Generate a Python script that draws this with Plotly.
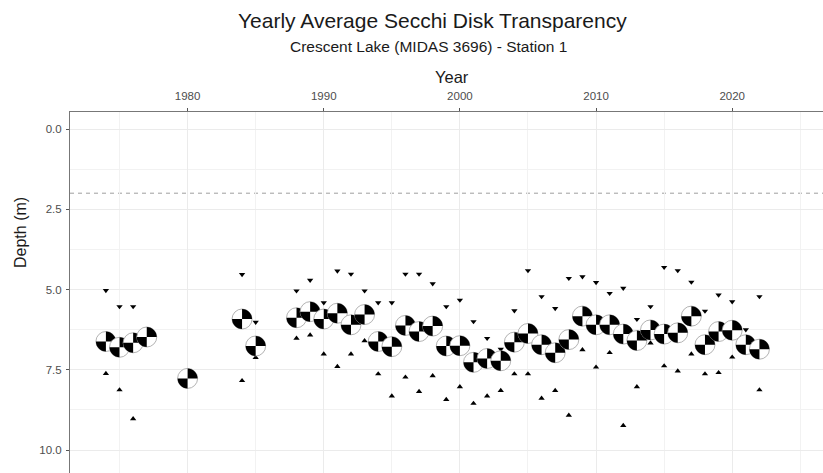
import plotly.graph_objects as go

# Yearly Secchi disk transparency summary (depth in metres)
years = [1974, 1975, 1976, 1977, 1980, 1984, 1985,
         1988, 1989, 1990, 1991, 1992, 1993, 1994, 1995, 1996, 1997, 1998, 1999,
         2000, 2001, 2002, 2003, 2004, 2005, 2006, 2007, 2008, 2009,
         2010, 2011, 2012, 2013, 2014, 2015, 2016, 2017, 2018, 2019,
         2020, 2021, 2022]

mean_depth = [6.62, 6.80, 6.66, 6.48, 7.77, 5.92, 6.76,
              5.88, 5.69, 5.92, 5.74, 6.10, 5.78, 6.62, 6.78, 6.12, 6.31, 6.14, 6.76,
              6.75, 7.27, 7.15, 7.22, 6.64, 6.37, 6.72, 6.97, 6.56, 5.83,
              6.10, 6.10, 6.39, 6.59, 6.26, 6.39, 6.35, 5.83, 6.72, 6.31,
              6.27, 6.72, 6.86]

min_depth = [5.03, 5.53, 5.53, None, None, 4.53, 6.02,
             5.04, 4.71, 5.41, 4.42, 4.52, 5.04, 5.41, 5.41, 4.52, 4.52, 4.82, 5.53,
             5.33, 6.00, 6.52, 6.86, 5.66, 4.41, 5.22, 5.59, 4.65, 4.60,
             4.78, 5.12, 4.96, 5.93, 5.53, 4.31, 4.41, 4.77, 5.67, 5.17,
             5.38, 6.25, 5.22]

max_depth = [7.62, 8.13, 9.03, None, None, 7.84, 7.12,
             6.52, 6.42, 7.01, 7.40, 7.01, 6.60, 7.63, 8.32, 7.73, 8.18, 7.69, 8.43,
             8.03, 8.55, 8.32, 8.15, 7.63, 7.63, 8.39, 8.15, 8.92, 6.88,
             7.42, 6.97, 9.24, 8.03, 6.67, 7.38, 7.54, 7.01, 7.63, 7.59,
             7.11, None, 8.13]

reference_depth = 2.0
x_ticks = [1980, 1990, 2000, 2010, 2020]
y_ticks = [0.0, 2.5, 5.0, 7.5, 10.0]

FONT = "Liberation Sans, Arial, sans-serif"
W, H = 823, 473
ML, MT = 70, 112

fig = go.Figure()

# minimum / maximum readings per year
fig.add_trace(go.Scatter(
    x=years, y=min_depth, mode="markers",
    marker=dict(symbol="triangle-down", size=5.5, color="black"),
    hoverinfo="skip", showlegend=False))
fig.add_trace(go.Scatter(
    x=years, y=max_depth, mode="markers",
    marker=dict(symbol="triangle-up", size=5.5, color="black"),
    hoverinfo="skip", showlegend=False))

# Secchi disk icon for each yearly mean: white disc, black upper-right and lower-left quadrants
R = 10.0
k = 0.5523 * R
quadrants = (
    f"M0,0 L{R},0 C{R},{k} {k},{R} 0,{R} Z "
    f"M0,0 L{-R},0 C{-R},{-k} {-k},{-R} 0,{-R} Z"
)
shapes = []
for yr, d in zip(years, mean_depth):
    shapes.append(dict(
        type="circle", xref="x", yref="y", xsizemode="pixel", ysizemode="pixel",
        xanchor=yr, yanchor=d, x0=-R, x1=R, y0=-R, y1=R,
        fillcolor="white", line=dict(color="#a0a0a0", width=0.8), layer="above"))
    shapes.append(dict(
        type="path", xref="x", yref="y", xsizemode="pixel", ysizemode="pixel",
        xanchor=yr, yanchor=d, path=quadrants,
        fillcolor="black", line=dict(width=0), layer="above"))

# dashed reference depth line
shapes.insert(0, dict(
    type="line", xref="x domain", yref="y", x0=0, x1=1,
    y0=reference_depth, y1=reference_depth,
    line=dict(color="#9e9e9e", width=1, dash="4px,4px"), layer="below"))

px_per_year = 13.615
px_per_m = 32.1
x_left = 1980 - (187.6 - ML) / px_per_year
x_right = x_left + (W - ML) / px_per_year
y_top = -(129 - MT) / px_per_m
y_bottom = y_top + (H - MT) / px_per_m

fig.update_layout(
    width=W, height=H,
    margin=dict(l=ML, r=0, t=MT, b=0, pad=0),
    paper_bgcolor="white", plot_bgcolor="white",
    font=dict(family=FONT, color="#4d4d4d"),
    shapes=shapes,
    showlegend=False,
    xaxis=dict(
        side="top", range=[x_left, x_right], tickvals=x_ticks,
        ticks="outside", ticklen=3, tickcolor="#555", tickwidth=1,
        ticklabelstandoff=3,
        tickfont=dict(size=11.5, color="#4d4d4d", family=FONT),
        showgrid=True, gridcolor="#ebebeb", gridwidth=1,
        minor=dict(tick0=1975, dtick=10, showgrid=True, gridcolor="#f2f2f2", gridwidth=0.6),
        showline=True, linecolor="#777", linewidth=1, zeroline=False, mirror=False),
    yaxis=dict(
        range=[y_bottom, y_top], tickvals=y_ticks, tickformat=".1f",
        ticks="outside", ticklen=3, tickcolor="#555", tickwidth=1,
        ticklabelstandoff=2,
        tickfont=dict(size=11.5, color="#4d4d4d", family=FONT),
        showgrid=True, gridcolor="#ebebeb", gridwidth=1,
        minor=dict(tick0=1.25, dtick=2.5, showgrid=True, gridcolor="#f2f2f2", gridwidth=0.6),
        showline=True, linecolor="#777", linewidth=1, zeroline=False, mirror=False),
    annotations=[
        dict(text="Yearly Average Secchi Disk Transparency", xref="paper", yref="paper",
             x=(432 - ML) / (W - ML), y=1 + (MT - 20) / (H - MT),
             xanchor="center", yanchor="middle", showarrow=False,
             font=dict(size=21, color="#1a1a1a", family=FONT)),
        dict(text="Crescent Lake (MIDAS 3696) - Station 1", xref="paper", yref="paper",
             x=(428 - ML) / (W - ML), y=1 + (MT - 47) / (H - MT),
             xanchor="center", yanchor="middle", showarrow=False,
             font=dict(size=15.5, color="#1a1a1a", family=FONT)),
        dict(text="Year", xref="paper", yref="paper",
             x=(452 - ML) / (W - ML), y=1 + (MT - 77) / (H - MT),
             xanchor="center", yanchor="middle", showarrow=False,
             font=dict(size=16.5, color="#1a1a1a", family=FONT)),
        dict(text="Depth (m)", xref="paper", yref="paper", textangle=-90,
             x=(20 - ML) / (W - ML), y=(H - 233) / (H - MT),
             xanchor="center", yanchor="middle", showarrow=False,
             font=dict(size=16, color="#1a1a1a", family=FONT)),
    ],
)

fig.write_html("out.html")
